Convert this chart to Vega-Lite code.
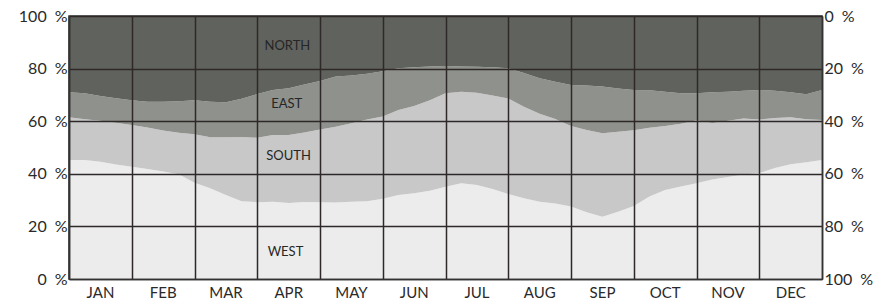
{
  "$schema": "https://vega.github.io/schema/vega-lite/v6.json",
  "autosize": "none",
  "padding": {"left": 69, "top": 16, "right": 60, "bottom": 26},
  "width": 753,
  "height": 263,
  "background": "white",
  "config": {
    "view": {"stroke": "#333333", "strokeWidth": 1.5},
    "font": "Lato",
    "axis": {"labelFont": "Lato", "labelColor": "#2a2a2a"}
  },
  "data": {
    "values": [
      {"m": 0, "w": 45.2, "s": 61.5, "e": 71.0},
      {"m": 0.25, "w": 45.2, "s": 60.7, "e": 70.6},
      {"m": 0.5, "w": 44.6, "s": 60.2, "e": 69.6},
      {"m": 0.75, "w": 43.5, "s": 59.4, "e": 68.7},
      {"m": 1.0, "w": 42.7, "s": 58.6, "e": 68.0},
      {"m": 1.25, "w": 41.8, "s": 57.6, "e": 67.4},
      {"m": 1.5, "w": 40.9, "s": 56.5, "e": 67.4},
      {"m": 1.75, "w": 39.8, "s": 55.6, "e": 67.6},
      {"m": 2.0, "w": 36.6, "s": 55.0, "e": 68.0},
      {"m": 2.25, "w": 34.5, "s": 53.9, "e": 67.4},
      {"m": 2.5, "w": 31.9, "s": 53.9, "e": 67.2},
      {"m": 2.75, "w": 29.6, "s": 54.0, "e": 68.5},
      {"m": 3.0, "w": 29.2, "s": 53.7, "e": 70.3},
      {"m": 3.25, "w": 29.4, "s": 54.8, "e": 71.9},
      {"m": 3.5, "w": 28.9, "s": 54.8, "e": 72.5},
      {"m": 3.75, "w": 29.3, "s": 55.7, "e": 74.0},
      {"m": 4.0, "w": 29.2, "s": 56.8, "e": 75.3},
      {"m": 4.25, "w": 29.1, "s": 57.9, "e": 77.0},
      {"m": 4.5, "w": 29.4, "s": 59.2, "e": 77.4},
      {"m": 4.75, "w": 29.6, "s": 60.6, "e": 78.0},
      {"m": 5.0, "w": 30.5, "s": 61.8, "e": 79.0},
      {"m": 5.25, "w": 31.9, "s": 64.3, "e": 80.1},
      {"m": 5.5, "w": 32.6, "s": 65.8, "e": 80.5},
      {"m": 5.75, "w": 33.6, "s": 68.0, "e": 80.8},
      {"m": 6.0, "w": 35.1, "s": 70.6, "e": 81.0},
      {"m": 6.25, "w": 36.4, "s": 71.2, "e": 80.8},
      {"m": 6.5, "w": 35.7, "s": 70.8, "e": 80.7},
      {"m": 6.75, "w": 34.2, "s": 69.8, "e": 80.5},
      {"m": 7.0, "w": 32.3, "s": 68.6, "e": 80.1},
      {"m": 7.25, "w": 30.7, "s": 65.5, "e": 78.3},
      {"m": 7.5, "w": 29.4, "s": 62.8, "e": 76.3},
      {"m": 7.75, "w": 28.7, "s": 60.8, "e": 75.0},
      {"m": 8.0, "w": 27.6, "s": 58.2, "e": 73.8},
      {"m": 8.25, "w": 25.4, "s": 56.7, "e": 73.6},
      {"m": 8.5, "w": 23.7, "s": 55.4, "e": 73.2},
      {"m": 8.75, "w": 25.6, "s": 56.0, "e": 72.4},
      {"m": 9.0, "w": 27.8, "s": 56.6, "e": 71.9},
      {"m": 9.25, "w": 31.4, "s": 57.5, "e": 71.8},
      {"m": 9.5, "w": 33.8, "s": 58.2, "e": 71.2},
      {"m": 9.75, "w": 35.2, "s": 59.0, "e": 70.6},
      {"m": 10.0, "w": 36.4, "s": 60.4, "e": 70.6},
      {"m": 10.25, "w": 37.8, "s": 59.3, "e": 71.0},
      {"m": 10.5, "w": 38.8, "s": 60.2, "e": 71.2},
      {"m": 10.75, "w": 39.7, "s": 61.0, "e": 71.6},
      {"m": 11.0, "w": 40.3, "s": 60.6, "e": 71.9},
      {"m": 11.25, "w": 42.2, "s": 61.2, "e": 71.6},
      {"m": 11.5, "w": 43.6, "s": 61.5, "e": 71.0},
      {"m": 11.75, "w": 44.4, "s": 60.7, "e": 70.2},
      {"m": 12.0, "w": 45.2, "s": 60.5, "e": 71.9}
    ]
  },
  "layer": [
    {
      "mark": {"type": "area", "color": "#ececec"},
      "encoding": {
        "x": {
          "field": "m", "type": "quantitative",
          "scale": {"domain": [0, 12], "nice": false, "zero": false},
          "axis": {
            "title": null,
            "values": [0, 1, 2, 3, 4, 5, 6, 7, 8, 9, 10, 11, 12],
            "labelExpr": "datum.value < 12 ? ['JAN','FEB','MAR','APR','MAY','JUN','JUL','AUG','SEP','OCT','NOV','DEC'][datum.value] : ''",
            "labelOffset": 31,
            "labelFlush": false,
            "labelFontSize": 15,
            "labelPadding": 6,
            "ticks": false,
            "grid": true,
            "gridColor": "#2e2828",
            "gridWidth": 1.5,
            "gridOpacity": 1,
            "domainColor": "#333333",
            "domainWidth": 1.5,
            "zindex": 1
          }
        },
        "y": {
          "field": "w", "type": "quantitative",
          "scale": {"domain": [0, 100], "nice": false},
          "axis": {
            "title": null,
            "values": [0, 20, 40, 60, 80, 100],
            "labelExpr": "datum.value + '\u2002%'",
            "labelFontSize": 16,
            "labelPadding": 2,
            "ticks": false,
            "grid": true,
            "gridColor": "#2e2828",
            "gridWidth": 1.5,
            "gridOpacity": 1,
            "domainColor": "#333333",
            "domainWidth": 1.5,
            "zindex": 1
          }
        }
      }
    },
    {
      "mark": {"type": "area", "color": "#c8c8c8"},
      "encoding": {
        "x": {"field": "m", "type": "quantitative"},
        "y": {"field": "s", "type": "quantitative", "axis": null},
        "y2": {"field": "w"}
      }
    },
    {
      "mark": {"type": "area", "color": "#8f918d"},
      "encoding": {
        "x": {"field": "m", "type": "quantitative"},
        "y": {"field": "e", "type": "quantitative", "axis": null},
        "y2": {"field": "s"}
      }
    },
    {
      "mark": {"type": "area", "color": "#60625d"},
      "encoding": {
        "x": {"field": "m", "type": "quantitative"},
        "y": {"field": "e", "type": "quantitative",
          "axis": {
            "orient": "right",
            "title": null,
            "values": [0, 20, 40, 60, 80, 100],
            "labelExpr": "(100 - datum.value) + '\u2002%'",
            "labelFontSize": 16,
            "labelPadding": 2,
            "ticks": false,
            "grid": false,
            "domainColor": "#333333",
            "domainWidth": 1.5,
            "zindex": 1
          }
        },
        "y2": {"datum": 100}
      }
    },
    {
      "data": {
        "values": [
          {"label": "NORTH", "m": 3.48, "p": 88.6},
          {"label": "EAST", "m": 3.47, "p": 66.5},
          {"label": "SOUTH", "m": 3.5, "p": 46.8},
          {"label": "WEST", "m": 3.45, "p": 10.3}
        ]
      },
      "mark": {"type": "text", "fontSize": 13, "color": "#262626", "font": "Lato"},
      "encoding": {
        "x": {"field": "m", "type": "quantitative"},
        "y": {"field": "p", "type": "quantitative", "axis": null},
        "text": {"field": "label"}
      }
    }
  ],
  "resolve": {"axis": {"y": "independent"}}
}
